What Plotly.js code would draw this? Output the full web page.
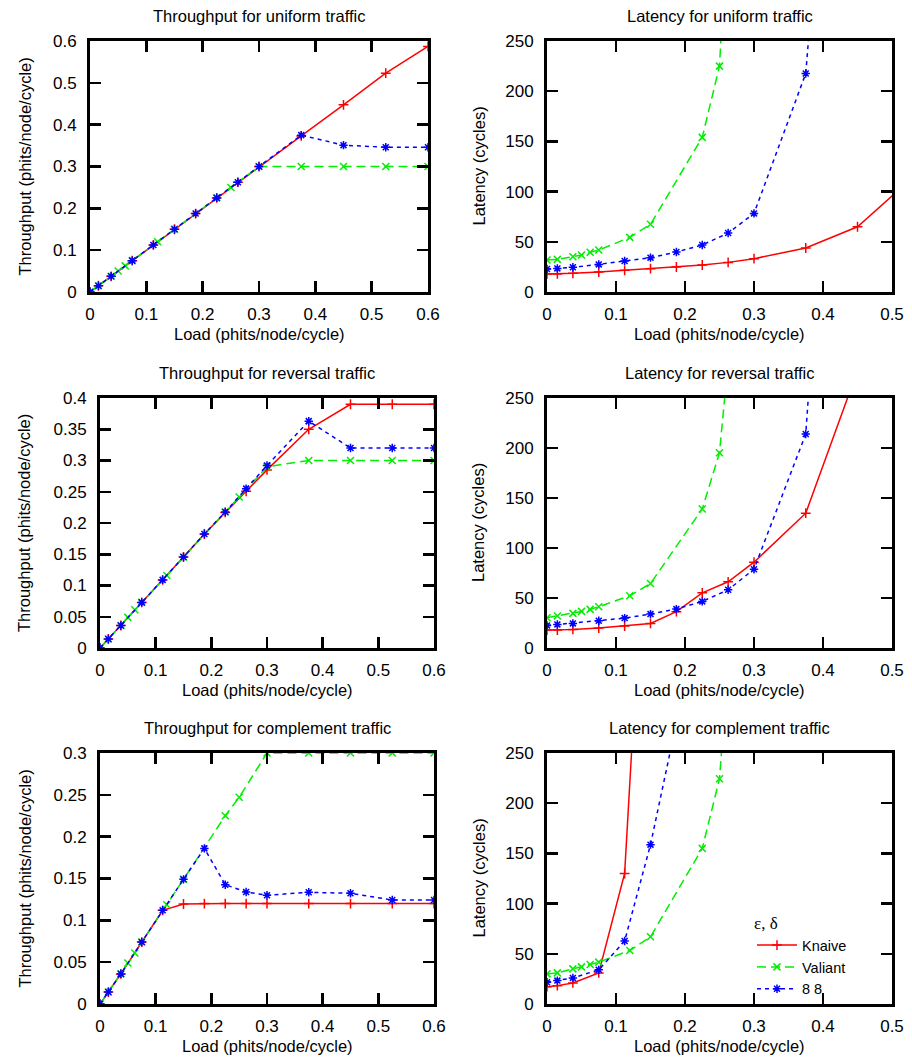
<!DOCTYPE html>
<html>
<head>
<meta charset="utf-8">
<script src="https://cdn.plot.ly/plotly-3.0.1.min.js"></script>
<style>html,body{margin:0;padding:0;background:#fff;}#chart{width:912px;height:1061px;}</style>
</head>
<body>
<div id="chart"></div>
<script>
// ---------- data ----------
const seriesNames = ['Knaive', 'Valiant', '8 8'];
const legendTitle = 'ε, δ';
// offered load (phits/node/cycle)
const loadKnaive = [0, 0.015, 0.0375, 0.075, 0.1125, 0.15, 0.1875, 0.225, 0.2625, 0.3, 0.375, 0.45, 0.525, 0.6];
const loadValiant = [0, 0.015, 0.0375, 0.05, 0.0625, 0.075, 0.12, 0.15, 0.225, 0.25, 0.3, 0.375, 0.45, 0.525, 0.6];
const load88 = [0, 0.015, 0.0375, 0.075, 0.1125, 0.15, 0.1875, 0.225, 0.2625, 0.3, 0.375, 0.45, 0.525, 0.6];

// uniform traffic
const thrUniformKnaive = [0, 0.015, 0.0375, 0.075, 0.1125, 0.15, 0.1875, 0.225, 0.2625, 0.3, 0.373, 0.4475, 0.523, 0.587];
const thrUniformValiant = [0, 0.015, 0.0375, 0.05, 0.0625, 0.075, 0.12, 0.15, 0.225, 0.25, 0.3, 0.3, 0.3, 0.3, 0.3];
const thrUniform88 = [0, 0.015, 0.0375, 0.075, 0.1125, 0.15, 0.1875, 0.225, 0.2625, 0.3, 0.375, 0.351, 0.346, 0.346];
const latUniformKnaive = [18, 18, 18.6, 19.9, 21.6, 23.2, 24.9, 26.9, 29.5, 33.2, 43.8, 65, 111, 180];
const latUniformValiant = [31.8, 32.5, 35.2, 36.8, 39.5, 41.8, 54.4, 67.4, 154, 225, 870];
const latUniform88 = [22.9, 23.5, 24.6, 27.5, 30.9, 34.2, 39.8, 46.8, 58.7, 78.3, 217.7, 850];

// reversal traffic
const thrReversalKnaive = [0, 0.0144, 0.036, 0.073, 0.109, 0.1456, 0.1824, 0.217, 0.2507, 0.285, 0.35, 0.39, 0.39, 0.39];
const thrReversalValiant = [0, 0.0144, 0.036, 0.049, 0.0613, 0.073, 0.116, 0.1456, 0.2176, 0.2416, 0.29, 0.3, 0.3, 0.3, 0.3];
const thrReversal88 = [0, 0.0144, 0.036, 0.073, 0.109, 0.1456, 0.1824, 0.2176, 0.255, 0.292, 0.363, 0.32, 0.32, 0.32];
const latReversalKnaive = [18, 18, 18.6, 20, 22, 24.6, 36.3, 55.2, 66.2, 85.8, 134.8, 279, 420];
const latReversalValiant = [30.3, 32, 34.6, 36.6, 38.6, 41.3, 52.2, 64.5, 139, 195.3, 560];
const latReversal88 = [22.6, 23.6, 24.6, 27.3, 29.9, 33.9, 38.9, 46.6, 58.2, 78.8, 214, 950];

// complement traffic
const thrComplementKnaive = [0, 0.0143, 0.036, 0.074, 0.112, 0.1195, 0.12, 0.12, 0.12, 0.12, 0.12, 0.12, 0.12, 0.12];
const thrComplementValiant = [0, 0.0143, 0.036, 0.049, 0.061, 0.074, 0.1187, 0.149, 0.225, 0.247, 0.3, 0.3, 0.3, 0.3, 0.3];
const thrComplement88 = [0, 0.0143, 0.036, 0.074, 0.112, 0.149, 0.186, 0.1426, 0.1339, 0.13, 0.1335, 0.1323, 0.1243, 0.1243];
const latComplementKnaive = [17.3, 18.3, 21, 31, 130, 580];
const latComplementValiant = [30, 31, 35, 37, 39.3, 41.7, 53.3, 67, 155, 224.3, 680];
const latComplement88 = [21.7, 23.3, 26, 34, 62.7, 158.7, 280];

const xTitle = 'Load (phits/node/cycle)';
const yTitleThr = 'Throughput (phits/node/cycle)';
const yTitleLat = 'Latency (cycles)';

// ---------- layout helpers ----------
const W = 912, H = 1061;
const FONT = 'Liberation Sans, Arial, Helvetica, sans-serif';
const styles = [
  {color: '#ff0000', dash: 'solid', symbol: 'cross-thin-open', size: 7},
  {color: '#00ee00', dash: '9px,5px', symbol: 'x-thin-open', size: 7},
  {color: '#0000ff', dash: '4px,4px', symbol: 'asterisk-open', size: 7}
];
const loads = [loadKnaive, loadValiant, load88];

const panels = [
  {title: 'Throughput for uniform traffic', ytitle: yTitleThr, xpx: [90, 428], ypx: [41, 292], xr: [0, 0.6], yr: [0, 0.6], dy: 0.1,
   ys: [thrUniformKnaive, thrUniformValiant, thrUniform88]},
  {title: 'Latency for uniform traffic', ytitle: yTitleLat, xpx: [547, 892], ypx: [41, 292], xr: [0, 0.5], yr: [0, 250], dy: 50,
   ys: [latUniformKnaive, latUniformValiant, latUniform88]},
  {title: 'Throughput for reversal traffic', ytitle: yTitleThr, xpx: [100, 434], ypx: [398, 648], xr: [0, 0.6], yr: [0, 0.4], dy: 0.05,
   ys: [thrReversalKnaive, thrReversalValiant, thrReversal88]},
  {title: 'Latency for reversal traffic', ytitle: yTitleLat, xpx: [547, 892], ypx: [398, 648], xr: [0, 0.5], yr: [0, 250], dy: 50,
   ys: [latReversalKnaive, latReversalValiant, latReversal88]},
  {title: 'Throughput for complement traffic', ytitle: yTitleThr, xpx: [100, 434], ypx: [753, 1004], xr: [0, 0.6], yr: [0, 0.3], dy: 0.05,
   ys: [thrComplementKnaive, thrComplementValiant, thrComplement88]},
  {title: 'Latency for complement traffic', ytitle: yTitleLat, xpx: [547, 892], ypx: [753, 1004], xr: [0, 0.5], yr: [0, 250], dy: 50,
   ys: [latComplementKnaive, latComplementValiant, latComplement88]}
];

const traces = [];
const layout = {
  width: W, height: H,
  margin: {l: 0, r: 0, t: 0, b: 0},
  paper_bgcolor: '#fff', plot_bgcolor: '#fff',
  font: {family: FONT, size: 17, color: '#000'},
  annotations: [],
  showlegend: true,
  legend: {
    x: 752 / W, y: 1 - 907 / H, xanchor: 'left', yanchor: 'top',
    bgcolor: 'rgba(0,0,0,0)', borderwidth: 0,
    font: {family: FONT, size: 14.5, color: '#000'},
    title: {text: legendTitle, font: {family: 'Liberation Serif, Times New Roman, serif', size: 17}},
    itemwidth: 40, tracegroupgap: 0
  }
};

panels.forEach((p, i) => {
  const n = i === 0 ? '' : String(i + 1);
  const xa = 'x' + n, ya = 'y' + n;
  const axCommon = {
    showline: true, mirror: 'allticks', linecolor: '#000', linewidth: 3,
    ticks: 'inside', ticklen: 11, tickwidth: 2.5, tickcolor: '#000',
    showgrid: false, zeroline: false, fixedrange: true,
    tickfont: {family: FONT, size: 17, color: '#000'}
  };
  layout['xaxis' + n] = Object.assign({}, axCommon, {
    domain: [p.xpx[0] / W, p.xpx[1] / W], range: p.xr, dtick: 0.1, tick0: 0,
    anchor: ya, ticklabelstandoff: 5
  });
  layout['yaxis' + n] = Object.assign({}, axCommon, {
    domain: [1 - p.ypx[1] / H, 1 - p.ypx[0] / H], range: p.yr, dtick: p.dy, tick0: 0,
    anchor: xa, ticklabelstandoff: 7
  });
  const cx = (p.xpx[0] + p.xpx[1]) / 2;
  const cy = (p.ypx[0] + p.ypx[1]) / 2;
  layout.annotations.push({
    text: p.title, xref: 'paper', yref: 'paper', x: cx / W, y: 1 - (p.ypx[0] - 25) / H,
    xanchor: 'center', yanchor: 'middle', showarrow: false, font: {family: FONT, size: 16.5, color: '#000'}
  });
  layout.annotations.push({
    text: xTitle, xref: 'paper', yref: 'paper', x: cx / W, y: 1 - (p.ypx[1] + 42) / H,
    xanchor: 'center', yanchor: 'middle', showarrow: false, font: {family: FONT, size: 16.5, color: '#000'}
  });
  const ytx = (i % 2 === 0) ? 24 : 478;
  layout.annotations.push({
    text: p.ytitle, xref: 'paper', yref: 'paper', x: ytx / W, y: 1 - cy / H, textangle: -90,
    xanchor: 'center', yanchor: 'middle', showarrow: false, font: {family: FONT, size: 16.5, color: '#000'}
  });
  p.ys.forEach((yv, k) => {
    const s = styles[k];
    traces.push({
      type: 'scatter', mode: 'lines+markers', name: seriesNames[k],
      x: loads[k], y: yv, xaxis: xa, yaxis: ya,
      showlegend: i === panels.length - 1,
      line: {color: s.color, width: 1.5, dash: s.dash},
      marker: {symbol: s.symbol, size: s.size, color: s.color, line: {color: s.color, width: 1.5}},
      hoverinfo: 'skip'
    });
  });
});

Plotly.newPlot('chart', traces, layout, {staticPlot: true, displayModeBar: false});
</script>
</body>
</html>
